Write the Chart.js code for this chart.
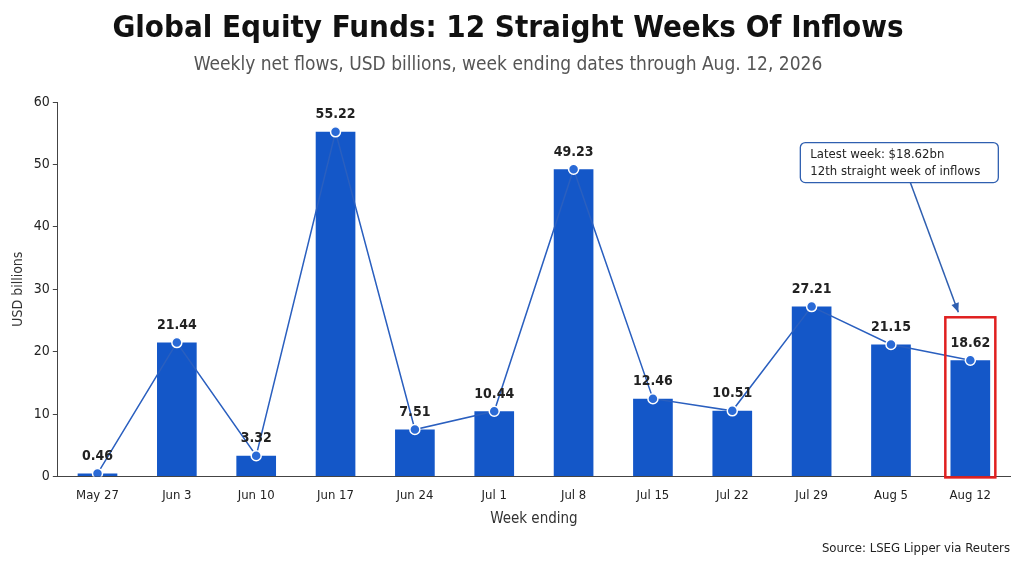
<!DOCTYPE html>
<html>
<head>
<meta charset="utf-8">
<script src="https://cdn.jsdelivr.net/npm/chart.js@4"></script>
<style>
  html, body { margin: 0; padding: 0; background: #fff; }
  #wrap { position: relative; width: 1024px; height: 576px; }
  canvas { display: block; }
</style>
</head>
<body>
<div id="wrap"><canvas id="chart" width="1024" height="576"></canvas></div>
<script>
const weeks = ['May 27', 'Jun 3', 'Jun 10', 'Jun 17', 'Jun 24', 'Jul 1', 'Jul 8', 'Jul 15', 'Jul 22', 'Jul 29', 'Aug 5', 'Aug 12'];
const flows = [0.46, 21.44, 3.32, 55.22, 7.51, 10.44, 49.23, 12.46, 10.51, 27.21, 21.15, 18.62];
const yTicks = [0, 10, 20, 30, 40, 50, 60];

const blue = '#1457c8';
const condensed = '"DejaVu Sans Condensed", "DejaVu Sans", sans-serif';

// value labels, highlight box, callout and source line
const extras = {
    id: 'extras',
    afterDatasetsDraw(chart) {
        const { ctx, scales: { x, y } } = chart;
        ctx.save();
        ctx.font = 'bold 14px ' + condensed;
        ctx.fillStyle = '#222';
        ctx.textAlign = 'center';
        ctx.textBaseline = 'bottom';
        flows.forEach((v, i) => {
            ctx.fillText(v.toFixed(2), x.getPixelForValue(i), y.getPixelForValue(v) - 10);
        });

        // red frame around latest week
        const last = flows.length - 1;
        const lx = x.getPixelForValue(last);
        ctx.strokeStyle = '#e02020';
        ctx.lineWidth = 2.5;
        ctx.strokeRect(lx - 25, y.getPixelForValue(25.5), 50, y.getPixelForValue(0) - y.getPixelForValue(25.5) + 1);

        // callout box
        const bx = lx - 170, by = y.getPixelForValue(53.5), bw = 198, bh = 40;
        ctx.fillStyle = '#fff';
        ctx.strokeStyle = '#2f5fb0';
        ctx.lineWidth = 1.3;
        ctx.beginPath();
        ctx.roundRect(bx, by, bw, bh, 5);
        ctx.fill();
        ctx.stroke();
        ctx.fillStyle = '#222';
        ctx.font = '13px ' + condensed;
        ctx.textAlign = 'left';
        ctx.textBaseline = 'middle';
        ctx.fillText('Latest week: $18.62bn', bx + 10, by + 12);
        ctx.fillText('12th straight week of inflows', bx + 10, by + 29);

        // arrow
        const ax0 = lx - 60, ay0 = by + bh, ax1 = lx - 12, ay1 = y.getPixelForValue(26.3);
        ctx.strokeStyle = '#2f5fb0';
        ctx.lineWidth = 1.5;
        ctx.beginPath();
        ctx.moveTo(ax0, ay0);
        ctx.lineTo(ax1, ay1);
        ctx.stroke();
        const ang = Math.atan2(ay1 - ay0, ax1 - ax0);
        ctx.fillStyle = '#2f5fb0';
        ctx.beginPath();
        ctx.moveTo(ax1, ay1);
        ctx.lineTo(ax1 - 10 * Math.cos(ang - 0.4), ay1 - 10 * Math.sin(ang - 0.4));
        ctx.lineTo(ax1 - 10 * Math.cos(ang + 0.4), ay1 - 10 * Math.sin(ang + 0.4));
        ctx.closePath();
        ctx.fill();

        ctx.font = '13px ' + condensed;
        ctx.fillStyle = '#222';
        ctx.textAlign = 'right';
        ctx.fillText('Source: LSEG Lipper via Reuters', 1010, 549);
        ctx.restore();
    }
};

new Chart(document.getElementById('chart'), {
    data: {
        labels: weeks,
        datasets: [
            {
                type: 'line',
                data: flows,
                borderColor: '#2a5fbf',
                borderWidth: 1.5,
                pointRadius: 5,
                pointBackgroundColor: '#2a6ad6',
                pointBorderColor: '#fff',
                pointBorderWidth: 1.5,
                order: 0
            },
            {
                type: 'bar',
                data: flows,
                backgroundColor: blue,
                barPercentage: 0.5,
                categoryPercentage: 1,
                order: 1
            }
        ]
    },
    options: {
        responsive: false,
        animation: false,
        layout: { padding: { top: 0, right: 14, bottom: 44, left: 6 } },
        plugins: {
            legend: { display: false },
            tooltip: { enabled: false },
            title: {
                display: true,
                text: 'Global Equity Funds: 12 Straight Weeks Of Inflows',
                font: { family: condensed, size: 31, weight: 'bold' },
                color: '#111',
                padding: { top: 10, bottom: 6 }
            },
            subtitle: {
                display: true,
                text: 'Weekly net flows, USD billions, week ending dates through Aug. 12, 2026',
                font: { family: condensed, size: 19 },
                color: '#555',
                padding: { bottom: 26 }
            }
        },
        scales: {
            x: {
                grid: { display: false },
                border: { color: '#444' },
                ticks: { color: '#222', font: { family: condensed, size: 13 } },
                title: { display: true, text: 'Week ending', color: '#333', font: { family: condensed, size: 15 } }
            },
            y: {
                min: 0,
                max: 60,
                afterBuildTicks: axis => { axis.ticks = yTicks.map(v => ({ value: v })); },
                grid: { drawOnChartArea: false, drawTicks: true, color: '#444', tickLength: 5 },
                border: { color: '#444' },
                ticks: { color: '#222', font: { family: condensed, size: 14 } },
                title: { display: true, text: 'USD billions', color: '#333', font: { family: condensed, size: 14 } }
            }
        }
    },
    plugins: [extras]
});
</script>
</body>
</html>
